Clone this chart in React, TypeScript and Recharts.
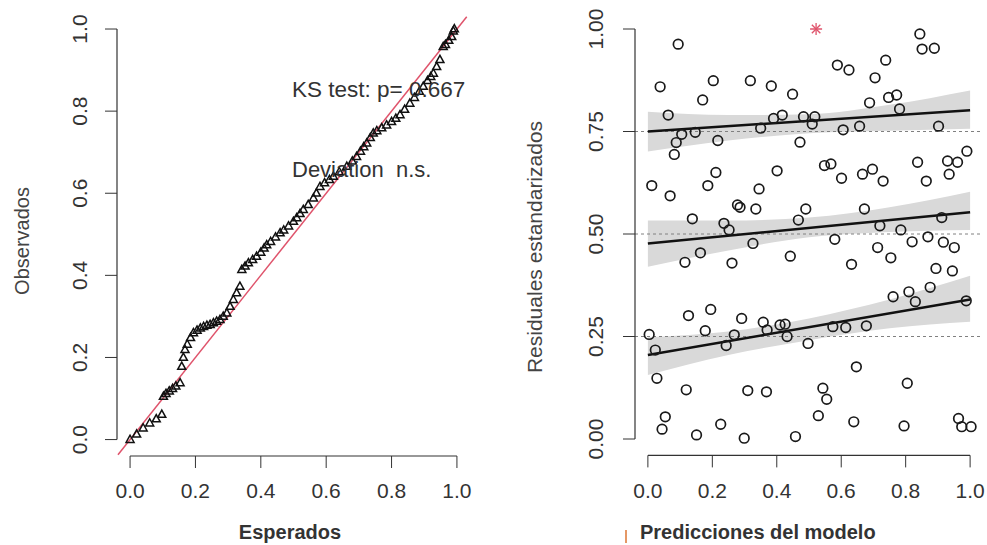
import React from 'react'
import {
  ComposedChart,
  Scatter,
  Area,
  Line,
  XAxis,
  YAxis,
  ReferenceLine,
} from 'recharts'

const qqExpected = [
  0.0, 0.02, 0.04, 0.06, 0.08, 0.097, 0.102, 0.11, 0.12, 0.13, 0.14, 0.153, 0.158, 0.163, 0.168,
  0.175, 0.185, 0.194, 0.205, 0.215, 0.225, 0.235, 0.245, 0.255, 0.265, 0.275, 0.285, 0.296,
  0.306, 0.316, 0.326, 0.336, 0.342, 0.352, 0.362, 0.375, 0.387, 0.4, 0.41, 0.418, 0.43, 0.445,
  0.459, 0.47, 0.485, 0.5, 0.51, 0.52, 0.53, 0.545, 0.561, 0.57, 0.581, 0.595, 0.61, 0.622, 0.64,
  0.663, 0.68, 0.693, 0.705, 0.715, 0.724, 0.735, 0.744, 0.755, 0.77, 0.785, 0.8, 0.813, 0.826,
  0.84, 0.856, 0.87, 0.885, 0.897, 0.91, 0.92, 0.928, 0.938, 0.948, 0.958, 0.965, 0.975, 0.984,
  0.989, 0.992,
]
const qqObserved = [
  0.0, 0.013, 0.028, 0.04, 0.05, 0.061, 0.105, 0.112, 0.118, 0.124, 0.13, 0.138, 0.178, 0.2, 0.219,
  0.232, 0.248, 0.26, 0.266, 0.271, 0.275, 0.278, 0.28, 0.284, 0.288, 0.292, 0.3, 0.308, 0.324,
  0.341, 0.357, 0.373, 0.414, 0.422, 0.43, 0.438, 0.446, 0.456, 0.466, 0.474, 0.482, 0.493, 0.503,
  0.51, 0.52, 0.531, 0.54, 0.55, 0.56, 0.572, 0.588, 0.6, 0.616, 0.625, 0.633, 0.641, 0.652, 0.665,
  0.678, 0.689, 0.702, 0.713, 0.722, 0.735, 0.746, 0.752, 0.759, 0.766, 0.774, 0.782, 0.791, 0.804,
  0.819, 0.833, 0.848, 0.86, 0.874, 0.884, 0.892, 0.908, 0.925, 0.957, 0.962, 0.972, 0.981, 0.995,
  1.0,
]

// residuals vs predictions
const predX = [
  0.094, 0.038, 0.063, 0.012, 0.069, 0.082, 0.088, 0.105, 0.147, 0.17, 0.203, 0.217, 0.186, 0.211,
  0.138, 0.115, 0.163, 0.236, 0.252, 0.261, 0.278, 0.286, 0.326, 0.335, 0.345, 0.318, 0.35, 0.383,
  0.39, 0.417, 0.401, 0.449, 0.472, 0.483, 0.51, 0.518, 0.548, 0.568, 0.467, 0.49, 0.442, 0.588,
  0.624, 0.606, 0.657, 0.601, 0.666, 0.697, 0.73, 0.705, 0.688, 0.738, 0.747, 0.772, 0.781, 0.58,
  0.632, 0.672, 0.72, 0.713, 0.754, 0.785, 0.82, 0.837, 0.864, 0.844, 0.851, 0.889, 0.902, 0.93,
  0.935, 0.961, 0.99, 0.869, 0.912, 0.917, 0.951, 0.894, 0.945, 0.876, 0.81, 0.761, 0.83, 0.988,
  0.004, 0.023, 0.028, 0.054, 0.044, 0.126, 0.178, 0.195, 0.119, 0.151, 0.226, 0.243, 0.268, 0.291,
  0.31, 0.299, 0.358, 0.37, 0.368, 0.41, 0.426, 0.432, 0.458, 0.497, 0.529, 0.543, 0.555, 0.574,
  0.614, 0.639, 0.647, 0.678, 0.795, 0.805, 0.964, 0.974, 1.003,
]
const residY = [
  0.963, 0.859, 0.79, 0.618, 0.593, 0.694, 0.723, 0.743, 0.748, 0.827, 0.874, 0.728, 0.618, 0.65,
  0.537, 0.431, 0.454, 0.526, 0.51, 0.429, 0.571, 0.565, 0.477, 0.561, 0.61, 0.874, 0.758, 0.861,
  0.782, 0.79, 0.654, 0.841, 0.724, 0.786, 0.768, 0.786, 0.667, 0.671, 0.534, 0.561, 0.446, 0.912,
  0.9, 0.754, 0.763, 0.636, 0.646, 0.658, 0.629, 0.881, 0.82, 0.924, 0.833, 0.839, 0.805, 0.487,
  0.426, 0.561, 0.52, 0.467, 0.442, 0.51, 0.481, 0.675, 0.629, 0.988, 0.951, 0.953, 0.763, 0.678,
  0.646, 0.675, 0.702, 0.493, 0.54, 0.48, 0.467, 0.416, 0.41, 0.37, 0.359, 0.347, 0.335, 0.337,
  0.255, 0.217, 0.148, 0.054, 0.024, 0.301, 0.264, 0.316, 0.12, 0.01, 0.036, 0.228, 0.254, 0.294,
  0.118, 0.002, 0.285, 0.266, 0.115, 0.278, 0.28, 0.25, 0.006, 0.233, 0.057, 0.124, 0.097, 0.274,
  0.272, 0.042, 0.176, 0.276, 0.032, 0.136, 0.05, 0.03, 0.03,
]
const outlierX = [0.522]
const outlierY = [1.0]

// quantile regression lines and their confidence bands
const bandX = [0, 0.25, 0.5, 0.75, 1]
const band25Lo = [0.156, 0.205, 0.241, 0.27, 0.286]
const band25Hi = [0.248, 0.262, 0.294, 0.34, 0.398]
const band50Lo = [0.42, 0.46, 0.492, 0.505, 0.51]
const band50Hi = [0.533, 0.533, 0.54, 0.565, 0.603]
const band75Lo = [0.701, 0.728, 0.746, 0.752, 0.757]
const band75Hi = [0.798, 0.79, 0.792, 0.815, 0.85]
const q25Line = [0.205, 0.34]
const q50Line = [0.477, 0.553]
const q75Line = [0.75, 0.802]

const xTicks = [0, 0.2, 0.4, 0.6, 0.8, 1]
const yTicksQQ = [0, 0.2, 0.4, 0.6, 0.8, 1]
const yTicksRes = [0, 0.25, 0.5, 0.75, 1]

const FONT = '"Liberation Sans", Arial, sans-serif'
const NARROW = '"Liberation Sans Narrow", "Arial Narrow", "Liberation Sans", sans-serif'
const TXT = '#333'

const qqData = qqExpected.map((x, i) => ({ x, y: qqObserved[i] }))
const resData = predX.map((x, i) => ({ x, y: residY[i] }))
const outData = outlierX.map((x, i) => ({ x, y: outlierY[i] }))
const bandRows = bandX.map((x, i) => ({
  x,
  b25: [band25Lo[i], band25Hi[i]],
  b50: [band50Lo[i], band50Hi[i]],
  b75: [band75Lo[i], band75Hi[i]],
  q25: i === 0 ? q25Line[0] : i === bandX.length - 1 ? q25Line[1] : undefined,
  q50: i === 0 ? q50Line[0] : i === bandX.length - 1 ? q50Line[1] : undefined,
  q75: i === 0 ? q75Line[0] : i === bandX.length - 1 ? q75Line[1] : undefined,
}))

const Triangle = (p: any) => (
  <path
    d={`M${p.cx},${p.cy - 4.4} L${p.cx - 4},${p.cy + 2.8} L${p.cx + 4},${p.cy + 2.8} Z`}
    fill="none"
    stroke="#111"
    strokeWidth={1.5}
  />
)

const Ring = (p: any) => (
  <circle cx={p.cx} cy={p.cy} r={4.8} fill="none" stroke="#1a1a1a" strokeWidth={1.7} />
)

const Star = (p: any) => {
  const r = 6
  const d = r * 0.707
  return (
    <g stroke="#DF536B" strokeWidth={1.3}>
      <line x1={p.cx - r} y1={p.cy} x2={p.cx + r} y2={p.cy} />
      <line x1={p.cx} y1={p.cy - r} x2={p.cx} y2={p.cy + r} />
      <line x1={p.cx - d} y1={p.cy - d} x2={p.cx + d} y2={p.cy + d} />
      <line x1={p.cx - d} y1={p.cy + d} x2={p.cx + d} y2={p.cy - d} />
    </g>
  )
}

const makeXTick = (digits: number) => (p: any) => (
  <text x={p.x} y={490} textAnchor="middle" dominantBaseline="central" fontSize={21} fill={TXT} fontFamily={NARROW}>
    {Number(p.payload.value).toFixed(digits)}
  </text>
)

const makeYTick = (cx: number, digits: number) => (p: any) => (
  <text
    x={cx}
    y={p.y}
    transform={`rotate(-90 ${cx} ${p.y})`}
    textAnchor="middle"
    dominantBaseline="central"
    fontSize={21}
    fill={TXT}
    fontFamily={NARROW}
  >
    {Number(p.payload.value).toFixed(digits)}
  </text>
)

const abs = (left: number, top: number, extra: React.CSSProperties = {}): React.CSSProperties => ({
  position: 'absolute',
  left,
  top,
  fontFamily: FONT,
  color: TXT,
  whiteSpace: 'nowrap',
  ...extra,
})

const App = () => {
  return (
    <div style={{ position: 'absolute', left: 0, top: 0, width: 987, height: 545, background: '#fff', overflow: 'hidden' }}>
      {/* QQ plot */}
      <div style={{ position: 'absolute', left: 0, top: 0 }}>
        <ComposedChart width={490} height={545} data={qqData} margin={{ top: 12.6, right: 20, left: 0, bottom: 29 }}>
          <XAxis
            dataKey="x"
            type="number"
            domain={[-0.04, 1.04]}
            ticks={xTicks}
            allowDataOverflow
            axisLine={false}
            tickLine={{ stroke: TXT }}
            tickSize={12}
            height={60}
            tick={makeXTick(1)}
          />
          <YAxis
            type="number"
            domain={[-0.04, 1.04]}
            ticks={yTicksQQ}
            allowDataOverflow
            axisLine={false}
            tickLine={{ stroke: TXT }}
            tickSize={12}
            width={117}
            tick={makeYTick(80, 1)}
          />
          <ReferenceLine segment={[{ x: 0, y: -0.04 }, { x: 1, y: -0.04 }]} stroke={TXT} strokeWidth={1.2} />
          <ReferenceLine segment={[{ x: -0.04, y: 0 }, { x: -0.04, y: 1 }]} stroke={TXT} strokeWidth={1.2} />
          <Scatter data={qqData} dataKey="y" shape={Triangle} isAnimationActive={false} />
          <ReferenceLine
            segment={[{ x: -0.037, y: -0.037 }, { x: 1.03, y: 1.03 }]}
            stroke="#DF536B"
            strokeWidth={1.5}
          />
        </ComposedChart>
      </div>

      {/* residuals vs predicted */}
      <div style={{ position: 'absolute', left: 490, top: 0 }}>
        <ComposedChart width={497} height={545} data={bandRows} margin={{ top: 12.6, right: 4, left: 0, bottom: 29.6 }}>
          <XAxis
            dataKey="x"
            type="number"
            domain={[-0.04, 1.04]}
            ticks={xTicks}
            allowDataOverflow
            axisLine={false}
            tickLine={{ stroke: TXT }}
            tickSize={12}
            height={60}
            tick={makeXTick(1)}
          />
          <YAxis
            type="number"
            domain={[-0.04, 1.04]}
            ticks={yTicksRes}
            allowDataOverflow
            axisLine={false}
            tickLine={{ stroke: TXT }}
            tickSize={12}
            width={145}
            tick={makeYTick(105, 2)}
          />
          <Area dataKey="b75" type="monotone" fill="#d9d9d9" fillOpacity={1} stroke="none" isAnimationActive={false} />
          <Area dataKey="b50" type="monotone" fill="#d9d9d9" fillOpacity={1} stroke="none" isAnimationActive={false} />
          <Area dataKey="b25" type="monotone" fill="#d9d9d9" fillOpacity={1} stroke="none" isAnimationActive={false} />
          {yTicksRes.slice(1, 4).map((v) => (
            <ReferenceLine key={v} y={v} stroke="#808080" strokeDasharray="3 3" strokeWidth={1} />
          ))}
          <Line dataKey="q75" stroke="#111" strokeWidth={2.5} dot={false} connectNulls isAnimationActive={false} />
          <Line dataKey="q50" stroke="#111" strokeWidth={2.5} dot={false} connectNulls isAnimationActive={false} />
          <Line dataKey="q25" stroke="#111" strokeWidth={2.5} dot={false} connectNulls isAnimationActive={false} />
          <ReferenceLine segment={[{ x: 0, y: -0.04 }, { x: 1, y: -0.04 }]} stroke={TXT} strokeWidth={1.2} />
          <ReferenceLine segment={[{ x: -0.04, y: 0 }, { x: -0.04, y: 1 }]} stroke={TXT} strokeWidth={1.2} />
          <Scatter data={resData} dataKey="y" shape={Ring} isAnimationActive={false} />
          <Scatter data={outData} dataKey="y" shape={Star} isAnimationActive={false} />
        </ComposedChart>
      </div>

      {/* texts */}
      <div style={abs(292, 77, { fontSize: 22.5, lineHeight: '26px', color: '#333' })}>KS test: p= 0.667</div>
      <div style={abs(292, 157, { fontSize: 22, lineHeight: '26px', color: '#333' })}>Deviation&nbsp;&nbsp;n.s.</div>

      <div style={abs(22, 241, { fontSize: 20, transform: 'translate(-50%, -50%) rotate(-90deg)', color: '#444' })}>
        Observados
      </div>
      <div style={abs(290, 532, { fontSize: 20, fontWeight: 'bold', transform: 'translate(-50%, -50%)' })}>
        Esperados
      </div>
      <div style={abs(535, 247, { fontSize: 21, transform: 'translate(-50%, -50%) rotate(-90deg)', color: '#444' })}>
        Residuales estandarizados
      </div>
      <div style={abs(640, 532, { fontSize: 20, fontWeight: 'bold', transform: 'translateY(-50%)' })}>
        Predicciones del modelo
      </div>
      <div style={{ position: 'absolute', left: 625, top: 530, width: 1.5, height: 13, background: '#e59866' }} />
    </div>
  )
}

export default App
